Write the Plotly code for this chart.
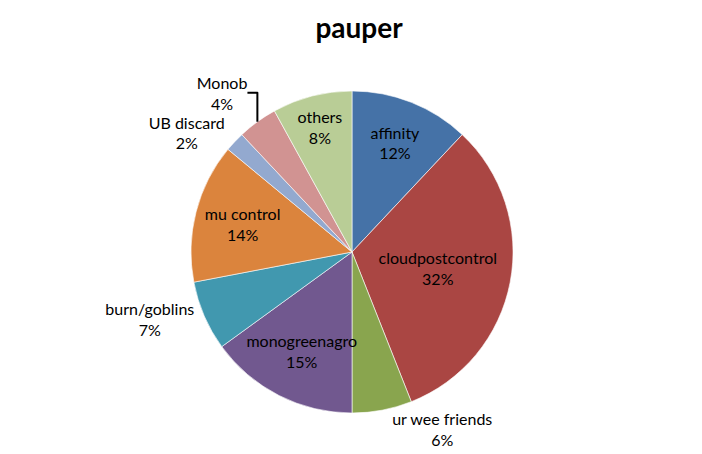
import plotly.graph_objects as go

# deck share in the pauper meta (percent), clockwise from 12 o'clock
decks = ["affinity", "cloudpostcontrol", "ur wee friends", "monogreenagro",
         "burn/goblins", "mu control", "UB discard", "Monob", "others"]
shares = [12, 32, 6, 15, 7, 14, 2, 4, 8]

colors = ["#4572A7", "#AA4643", "#89A54E", "#71588F", "#4198AF",
          "#DB843D", "#93A9CF", "#D19392", "#B9CD96"]
positions = ["inside", "inside", "outside", "inside", "outside",
             "inside", "outside", "outside", "inside"]

fig = go.Figure(
    go.Pie(
        labels=decks,
        values=shares,
        sort=False,
        direction="clockwise",
        rotation=0,
        marker=dict(colors=colors, line=dict(color="white", width=0.6)),
        texttemplate="%{label}<br>%{percent:.0%}",
        textposition=positions,
        insidetextorientation="horizontal",
        textfont=dict(family="Lato, Open Sans, sans-serif", size=16, color="#000000"),
        hoverinfo="label+percent",
        showlegend=False,
        domain=dict(x=[0.2607, 0.7194], y=[0.1079, 0.8172]),
    )
)

fig.update_layout(
    title=dict(text="<b>pauper</b>", x=0.5, xanchor="center", y=0.955, yanchor="middle",
               font=dict(family="Lato, Open Sans, sans-serif", size=28, color="#000000")),
    uniformtext=dict(minsize=16, mode="show"),
    width=702,
    height=454,
    margin=dict(l=0, r=0, t=0, b=0),
    paper_bgcolor="white",
    plot_bgcolor="white",
)

fig.write_html("out.html")
